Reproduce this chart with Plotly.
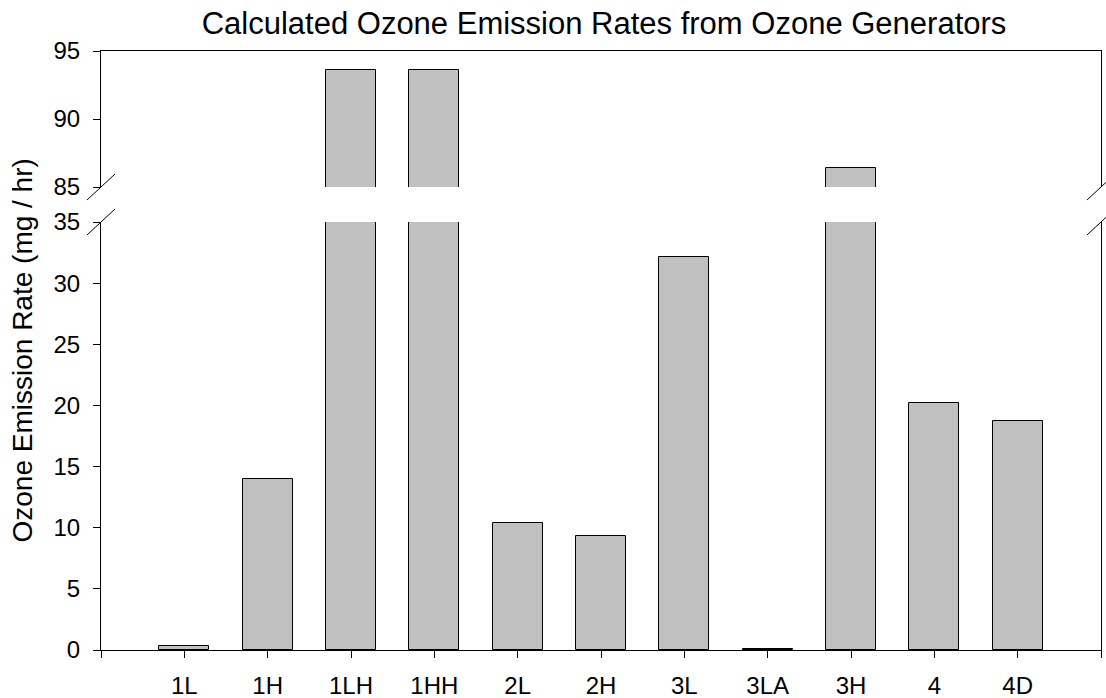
import plotly.graph_objects as go

# Data.
generators = ['1L', '1H', '1LH', '1HH', '2L', '2H', '3L', '3LA', '3H', '4', '4D']
emission_rate = [0.3, 14.0, 93.6, 93.6, 10.4, 9.3, 32.1, 0.1, 86.4, 20.2, 18.7]  # mg / hr
low_ticks = [0, 5, 10, 15, 20, 25, 30, 35]
high_ticks = [85, 90, 95]

xpos = list(range(len(generators)))
font = 'Arial, Liberation Sans, sans-serif'
bar_style = dict(color='#c0c0c0', line=dict(color='black', width=1))

fig = go.Figure()
fig.add_trace(go.Bar(x=xpos, y=emission_rate, width=0.6, marker=bar_style,
                     xaxis='x', yaxis='y'))
fig.add_trace(go.Bar(x=xpos, y=emission_rate, width=0.6, marker=bar_style,
                     xaxis='x2', yaxis='y2'))

# Broken axis: lower panel 0-35, upper panel 85-95.
low_top = 428 / 599
high_bottom = 463 / 599

axis_common = dict(showline=True, linecolor='black', linewidth=1, showgrid=False,
                   zeroline=False, ticks='outside', ticklen=7, tickcolor='black',
                   automargin=False,
                   tickfont=dict(family=font, size=24, color='black'))

fig.update_layout(
    width=1106, height=698,
    margin=dict(l=101, r=5, t=51, b=48),
    paper_bgcolor='white', plot_bgcolor='white',
    showlegend=False, bargap=0,
    title=dict(text='Calculated Ozone Emission Rates from Ozone Generators',
               x=(604 / 1106), xanchor='center', y=1 - 12 / 698, yanchor='top',
               yref='container', automargin=False,
               font=dict(family=font, size=31, color='black')),
    xaxis=dict(axis_common, range=[-1, 11], tickvals=list(range(-1, 12)),
               ticktext=[''] + generators + [''], anchor='y', ticklabelstandoff=7),
    xaxis2=dict(showline=True, linecolor='black', linewidth=1, showgrid=False,
                zeroline=False, range=[-1, 11], anchor='y2', side='top',
                showticklabels=False, ticks='', matches='x', automargin=False),
    yaxis=dict(axis_common, domain=[0, low_top], range=[0, 35], tickvals=low_ticks,
               mirror=True, anchor='x', ticklabelstandoff=8),
    yaxis2=dict(axis_common, domain=[high_bottom, 1], range=[85, 95], tickvals=high_ticks,
                mirror=True, anchor='x2', ticklabelstandoff=8),
    annotations=[dict(text='Ozone Emission Rate (mg / hr)', textangle=-90,
                      xref='paper', yref='paper', x=-0.079, y=0.5,
                      xanchor='center', yanchor='middle', showarrow=False,
                      font=dict(family=font, size=28, color='black'))],
)

# Break marks on the left and right axis lines.
for xa in (0, 1):
    for ya in (low_top, high_bottom):
        fig.add_shape(type='line', xref='paper', yref='paper',
                      xsizemode='pixel', ysizemode='pixel',
                      xanchor=xa, yanchor=ya, x0=-14, x1=14, y0=-13, y1=13,
                      line=dict(color='black', width=1))

# Drop the browser's default body margin so the figure sits at the page corner.
fig.write_html('out.html', config={'displayModeBar': False},
               post_script="document.body.style.margin='0';")
